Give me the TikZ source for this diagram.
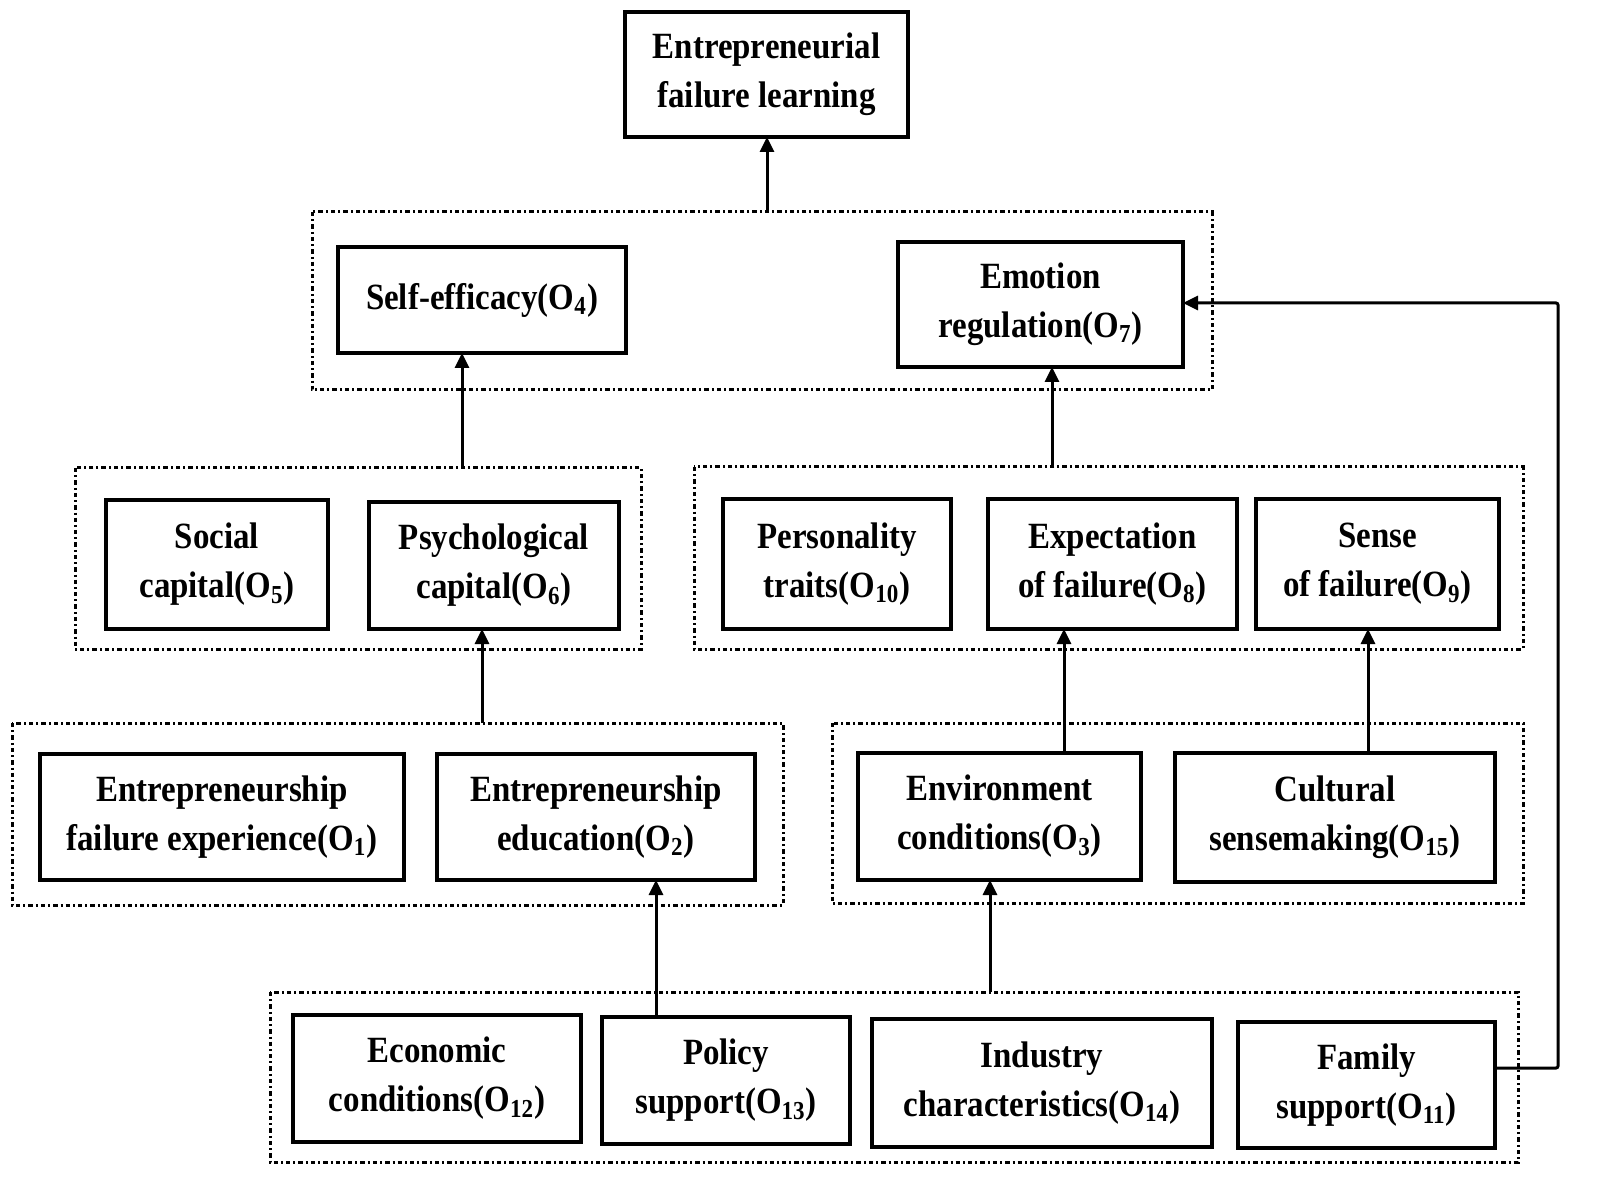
\documentclass[tikz,border=0pt]{standalone}
\usepackage{fontspec}
\setmainfont[FakeStretch=0.89]{Liberation Serif}
\usetikzlibrary{arrows.meta}
\newcommand{\Osub}[1]{O\textsubscript{#1}}
\newcommand{\bx}[6]{\node[box, minimum width={(#4-#2)*0.5pt}, minimum height={(#5-#3)*0.5pt}]
  (#1) at ({(#2+#4)/2},{(#3+#5)/2+2}) {#6};}
\newcommand{\gp}[5]{\draw[grp] (#2,#3) rectangle (#4,#5); \coordinate (#1) at ({(#2+#4)/2},#3);}
\begin{document}
\begin{tikzpicture}[x=0.5pt,y=-0.5pt,
  box/.style={draw, line width=2.1pt, inner sep=0pt, outer sep=0pt, align=center,
    font=\fontsize{18.5}{24.5}\selectfont\bfseries},
  grp/.style={line width=1.5pt,
    dash pattern=on 2.2pt off 1.5pt on 1pt off 1.5pt},
  arr/.style={line width=1.5pt, -{Triangle[length=7.5pt,width=7pt]}}]
\fill[white] (0,0) rectangle (1600,1197);
% groups (top edge midpoints named)
\gp{g1}{312}{212}{1212}{390}
\gp{g2}{75}{468}{641}{649}
\gp{g3}{694}{467}{1523}{649}
\gp{g4}{12}{723}{783}{905}
\gp{g5}{832}{723}{1523}{903}
\gp{g6}{270}{992}{1518}{1162}
% boxes (centre lowered 2 units so the text sits like the reference; sizes kept)
\bx{top}{625}{10}{908}{135}{Entrepreneurial\\failure learning}
\bx{se}{338}{245}{626}{351}{Self-efficacy(\Osub{4})}
\bx{er}{898}{240}{1183}{365}{Emotion\\regulation(\Osub{7})}
\bx{sc}{106}{498}{328}{627}{Social\\capital(\Osub{5})}
\bx{pc}{369}{500}{619}{627}{Psychological\\capital(\Osub{6})}
\bx{pt}{723}{497}{951}{627}{Personality\\traits(\Osub{10})}
\bx{ef}{988}{497}{1237}{627}{Expectation\\of failure(\Osub{8})}
\bx{sf}{1256}{497}{1499}{627}{Sense\\of failure(\Osub{9})}
\bx{fe}{40}{752}{404}{878}{Entrepreneurship\\failure experience(\Osub{1})}
\bx{ed}{437}{752}{755}{878}{Entrepreneurship\\education(\Osub{2})}
\bx{ec}{858}{751}{1141}{878}{Environment\\conditions(\Osub{3})}
\bx{cs}{1175}{751}{1495}{880}{Cultural\\sensemaking(\Osub{15})}
\bx{eco}{293}{1013}{581}{1140}{Economic\\conditions(\Osub{12})}
\bx{ps}{602}{1015}{850}{1142}{Policy\\support(\Osub{13})}
\bx{ic}{872}{1017}{1212}{1145}{Industry\\characteristics(\Osub{14})}
\bx{fs}{1238}{1020}{1495}{1146}{Family\\support(\Osub{11})}
% connector x positions
\coordinate (a1) at (767,0);
\coordinate (a2) at (462,0);
\coordinate (a3) at (1052,0);
\coordinate (a4) at (482,0);
\coordinate (a5) at (1064,0);
\coordinate (a6) at (1368,0);
\coordinate (a7) at (656,0);
\coordinate (a8) at (990,0);
\coordinate (fy) at (0,1068);
\coordinate (ey) at (0,303);
\coordinate (rx) at (1558,0);
% connectors
\draw[arr] (a1 |- g1) -- (a1 |- top.south);
\draw[arr] (a2 |- g2) -- (a2 |- se.south);
\draw[arr] (a3 |- g3) -- (a3 |- er.south);
\draw[arr] (a4 |- g4) -- (a4 |- pc.south);
\draw[arr] (a5 |- ec.north) -- (a5 |- ef.south);
\draw[arr] (a6 |- cs.north) -- (a6 |- sf.south);
\draw[arr] (a7 |- ps.north) -- (a7 |- ed.south);
\draw[arr] (a8 |- g6) -- (a8 |- ec.south);
\draw[arr, rounded corners=1pt] (fs.east |- fy) -- (rx |- fy) -- (rx |- ey) -- (er.east |- ey);
\end{tikzpicture}
\end{document}
